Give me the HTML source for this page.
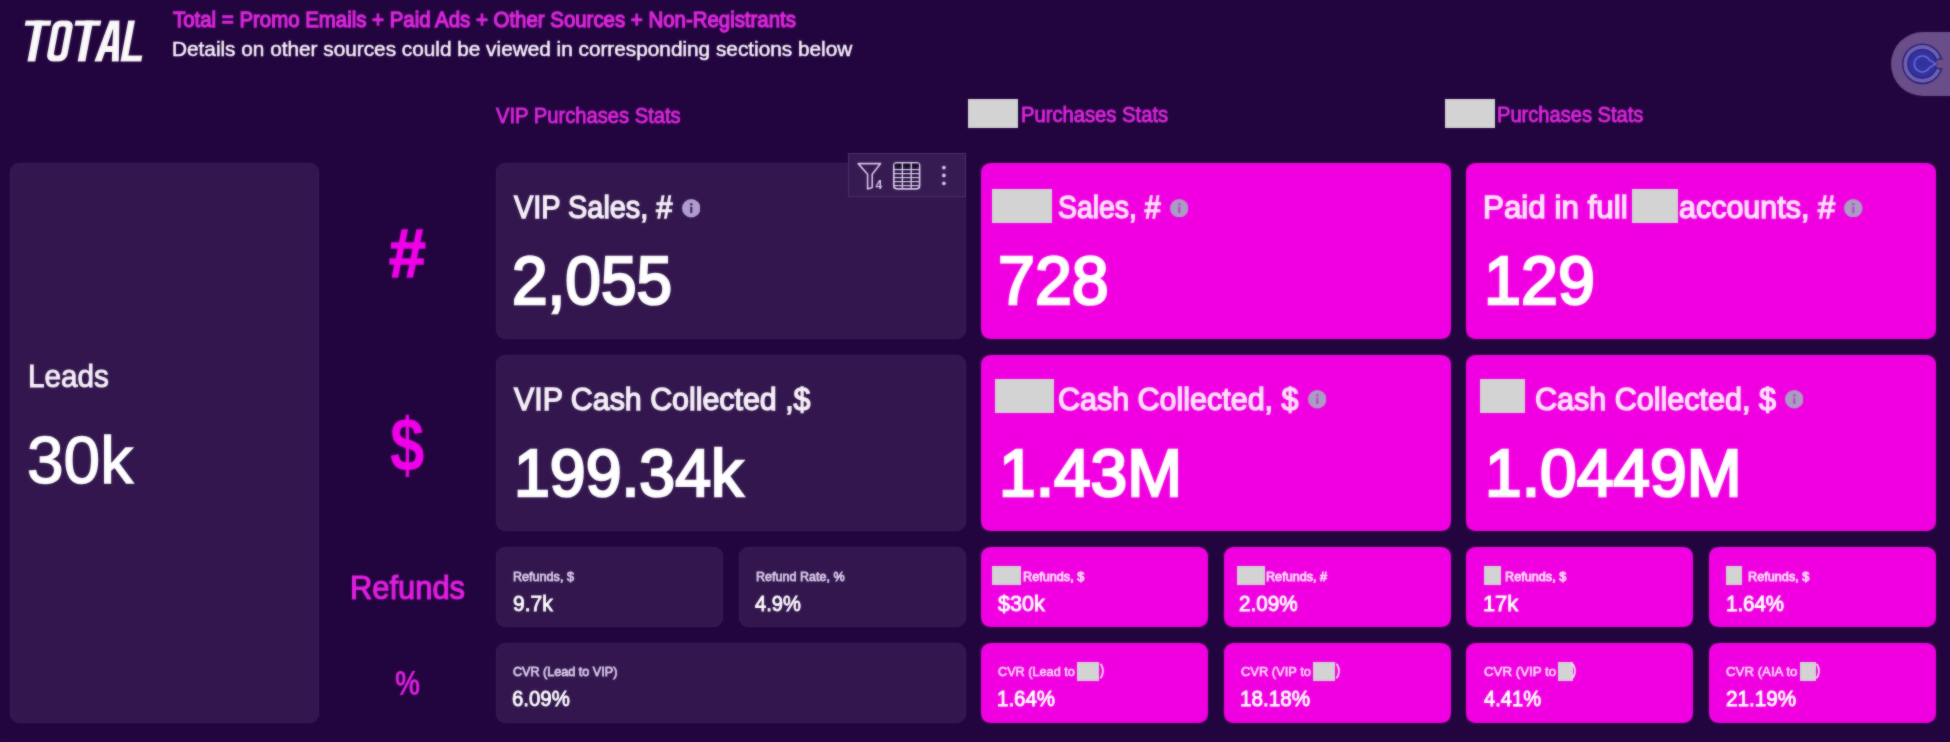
<!DOCTYPE html>
<html><head><meta charset="utf-8"><style>
html,body{margin:0;padding:0;}
body{width:1950px;height:742px;overflow:hidden;position:relative;background:#22043f;font-family:"Liberation Sans",sans-serif;}
.t{position:absolute;white-space:nowrap;transform-origin:0 0;}
#w{position:absolute;left:0;top:0;width:1950px;height:742px;background:#22043f;filter:url(#sb);}
</style></head><body><svg width="0" height="0" style="position:absolute"><filter id="sb" x="0" y="0" width="100%" height="100%" color-interpolation-filters="sRGB"><feGaussianBlur in="SourceGraphic" stdDeviation="1" result="b"/><feComposite in="SourceGraphic" in2="b" operator="arithmetic" k1="0" k2="0.5" k3="0.5" k4="0"/></filter></svg><div id="w">
<div style="position:absolute;left:10.00px;top:163.30px;width:308.50px;height:559.40px;background:#32164d;border-radius:9.0px;box-shadow:inset 0 0 0 1px #371b55;"></div>
<div style="position:absolute;left:495.80px;top:163.30px;width:469.80px;height:176.00px;background:#32164d;border-radius:9.0px;box-shadow:inset 0 0 0 1px #371b55;"></div>
<div style="position:absolute;left:495.80px;top:355.40px;width:469.80px;height:175.40px;background:#32164d;border-radius:9.0px;box-shadow:inset 0 0 0 1px #371b55;"></div>
<div style="position:absolute;left:495.80px;top:546.50px;width:226.80px;height:80.50px;background:#32164d;border-radius:9.0px;box-shadow:inset 0 0 0 1px #371b55;"></div>
<div style="position:absolute;left:738.80px;top:546.50px;width:226.80px;height:80.50px;background:#32164d;border-radius:9.0px;box-shadow:inset 0 0 0 1px #371b55;"></div>
<div style="position:absolute;left:495.80px;top:642.70px;width:469.80px;height:80.00px;background:#32164d;border-radius:9.0px;box-shadow:inset 0 0 0 1px #371b55;"></div>
<div style="position:absolute;left:981.00px;top:163.30px;width:469.80px;height:176.00px;background:#f000e0;border-radius:9.0px;"></div>
<div style="position:absolute;left:981.00px;top:355.40px;width:469.80px;height:175.40px;background:#f000e0;border-radius:9.0px;"></div>
<div style="position:absolute;left:981.00px;top:546.50px;width:226.80px;height:80.50px;background:#f000e0;border-radius:9.0px;"></div>
<div style="position:absolute;left:1224.00px;top:546.50px;width:226.80px;height:80.50px;background:#f000e0;border-radius:9.0px;"></div>
<div style="position:absolute;left:981.00px;top:642.70px;width:226.80px;height:80.00px;background:#f000e0;border-radius:9.0px;"></div>
<div style="position:absolute;left:1224.00px;top:642.70px;width:226.80px;height:80.00px;background:#f000e0;border-radius:9.0px;"></div>
<div style="position:absolute;left:1466.40px;top:163.30px;width:469.80px;height:176.00px;background:#f000e0;border-radius:9.0px;"></div>
<div style="position:absolute;left:1466.40px;top:355.40px;width:469.80px;height:175.40px;background:#f000e0;border-radius:9.0px;"></div>
<div style="position:absolute;left:1466.40px;top:546.50px;width:226.80px;height:80.50px;background:#f000e0;border-radius:9.0px;"></div>
<div style="position:absolute;left:1709.40px;top:546.50px;width:226.80px;height:80.50px;background:#f000e0;border-radius:9.0px;"></div>
<div style="position:absolute;left:1466.40px;top:642.70px;width:226.80px;height:80.00px;background:#f000e0;border-radius:9.0px;"></div>
<div style="position:absolute;left:1709.40px;top:642.70px;width:226.80px;height:80.00px;background:#f000e0;border-radius:9.0px;"></div>
<div style="position:absolute;left:967.70px;top:98.50px;width:50.10px;height:29.00px;background:#d3d3d3;border-radius:0.0px;"></div>
<div style="position:absolute;left:1445.40px;top:98.50px;width:50.00px;height:29.00px;background:#d3d3d3;border-radius:0.0px;"></div>
<div style="position:absolute;left:991.80px;top:189.00px;width:59.80px;height:34.30px;background:#d3d3d3;border-radius:0.0px;"></div>
<div style="position:absolute;left:1632.00px;top:189.00px;width:45.80px;height:34.30px;background:#d3d3d3;border-radius:0.0px;"></div>
<div style="position:absolute;left:994.50px;top:379.00px;width:59.30px;height:34.30px;background:#d3d3d3;border-radius:0.0px;"></div>
<div style="position:absolute;left:1479.60px;top:379.00px;width:45.90px;height:34.30px;background:#d3d3d3;border-radius:0.0px;"></div>
<div style="position:absolute;left:992.30px;top:566.30px;width:28.50px;height:18.40px;background:#d3d3d3;border-radius:0.0px;"></div>
<div style="position:absolute;left:1236.50px;top:566.30px;width:28.10px;height:18.40px;background:#d3d3d3;border-radius:0.0px;"></div>
<div style="position:absolute;left:1484.00px;top:566.30px;width:17.10px;height:18.40px;background:#d3d3d3;border-radius:0.0px;"></div>
<div style="position:absolute;left:1725.70px;top:566.30px;width:16.70px;height:18.40px;background:#d3d3d3;border-radius:0.0px;"></div>
<div style="position:absolute;left:1076.60px;top:662.00px;width:22.30px;height:18.60px;background:#d3d3d3;border-radius:0.0px;"></div>
<div style="position:absolute;left:1312.60px;top:662.00px;width:22.90px;height:18.60px;background:#d3d3d3;border-radius:0.0px;"></div>
<div style="position:absolute;left:1557.70px;top:662.00px;width:15.60px;height:18.60px;background:#d3d3d3;border-radius:0.0px;"></div>
<div style="position:absolute;left:1800.20px;top:662.00px;width:15.90px;height:18.60px;background:#d3d3d3;border-radius:0.0px;"></div>
<svg style="position:absolute;left:681.95px;top:199.05px" width="18.50" height="18.50" viewBox="0 0 20 20"><circle cx="10" cy="10" r="10" fill="#b09dcd"/><rect x="8.85" y="8.3" width="2.3" height="6.9" fill="#3a2358"/><circle cx="10" cy="5.7" r="1.35" fill="#3a2358"/></svg>
<svg style="position:absolute;left:1169.65px;top:198.75px" width="18.50" height="18.50" viewBox="0 0 20 20"><circle cx="10" cy="10" r="10" fill="#aa9cc4"/><rect x="8.85" y="8.3" width="2.3" height="6.9" fill="#b548c2"/><circle cx="10" cy="5.7" r="1.35" fill="#b548c2"/></svg>
<svg style="position:absolute;left:1844.25px;top:198.75px" width="18.50" height="18.50" viewBox="0 0 20 20"><circle cx="10" cy="10" r="10" fill="#aa9cc4"/><rect x="8.85" y="8.3" width="2.3" height="6.9" fill="#b548c2"/><circle cx="10" cy="5.7" r="1.35" fill="#b548c2"/></svg>
<svg style="position:absolute;left:1307.85px;top:390.05px" width="18.50" height="18.50" viewBox="0 0 20 20"><circle cx="10" cy="10" r="10" fill="#aa9cc4"/><rect x="8.85" y="8.3" width="2.3" height="6.9" fill="#b548c2"/><circle cx="10" cy="5.7" r="1.35" fill="#b548c2"/></svg>
<svg style="position:absolute;left:1784.95px;top:390.05px" width="18.50" height="18.50" viewBox="0 0 20 20"><circle cx="10" cy="10" r="10" fill="#aa9cc4"/><rect x="8.85" y="8.3" width="2.3" height="6.9" fill="#b548c2"/><circle cx="10" cy="5.7" r="1.35" fill="#b548c2"/></svg>
<div style="position:absolute;left:847.7px;top:153.1px;width:116.4px;height:41.6px;background:#361a52;border:1px solid #48306a;"></div>
<svg style="position:absolute;left:850px;top:155px" width="114" height="40" viewBox="850 155 114 40">
<path d="M858.2 163.6 L880.6 163.6 L872.2 174.2 L872.2 187.6 L867.6 189 L867.6 174.2 Z" fill="none" stroke="#d8c8ec" stroke-width="1.6" stroke-linejoin="round"/>
<text x="875.6" y="188.8" font-family="Liberation Sans" font-weight="bold" font-size="12" fill="#d8c8ec">4</text>
<rect x="893.8" y="162.8" width="25.8" height="26" rx="3" fill="#22103a" stroke="#d8c8ec" stroke-width="1.7"/>
<rect x="894.6" y="163.6" width="24.2" height="3.2" fill="#140a22"/>
<line x1="902.4" y1="163" x2="902.4" y2="188.6" stroke="#d8c8ec" stroke-width="1.4"/>
<line x1="911.2" y1="163" x2="911.2" y2="188.6" stroke="#d8c8ec" stroke-width="1.4"/>
<g stroke="#d8c8ec" stroke-width="1.3">
<line x1="894" y1="169.6" x2="920" y2="169.6"/><line x1="894" y1="173.6" x2="920" y2="173.6"/>
<line x1="894" y1="177.6" x2="920" y2="177.6"/><line x1="894" y1="181.6" x2="920" y2="181.6"/><line x1="894" y1="185.6" x2="920" y2="185.6"/>
</g>
<circle cx="943.9" cy="167.6" r="1.9" fill="#d8c8ec"/><circle cx="943.9" cy="175.4" r="1.9" fill="#d8c8ec"/><circle cx="943.9" cy="183.3" r="1.9" fill="#d8c8ec"/>
</svg>
<div style="position:absolute;left:1890.8px;top:32px;width:100px;height:63.7px;border-radius:32px;background:#6a4e8a;"></div>
<svg style="position:absolute;left:1890px;top:32px" width="60" height="64" viewBox="1890 32 60 64">
<circle cx="1922.3" cy="63.9" r="20.3" fill="#2c1b6c"/>
<circle cx="1922.3" cy="63.9" r="18.9" fill="#6c62b4"/>
<circle cx="1922.3" cy="63.9" r="15.0" fill="#2c1b6c"/>
<circle cx="1922.3" cy="63.9" r="13.9" fill="#3131a3"/>
<path d="M1943.5 58.9 H1939.6 A5 5 0 0 0 1939.6 68.9 H1943.5 Z" fill="#6a4e8a"/><path d="M1942.6 58.9 H1939.6 A5 5 0 0 0 1939.6 68.9 H1942.6" fill="none" stroke="#2c1b6c" stroke-width="1.3"/>
<path d="M1934.2 59.6 L1937.8 63.9 L1934.2 68.2 Z" fill="#3131a3"/>
<path d="M1936 63.9 L1929.4 60.1 A8 8 0 1 0 1929.4 67.7 Z" fill="none" stroke="#6c70c6" stroke-width="1.5" stroke-linejoin="round"/>
</svg>
<svg style="position:absolute;left:0;top:0" width="160" height="80" viewBox="0 0 160 80">
<g transform="translate(0,61.6) skewX(-10.76) translate(0,-61.6)" fill="#faf8f8">
<rect x="17.9" y="20.4" width="25.7" height="5.3"/><rect x="27.4" y="20.4" width="7.8" height="41.2"/>
<path fill-rule="evenodd" d="M53 20.4 H59 A7.2 7.2 0 0 1 66.2 27.6 V54.4 A7.2 7.2 0 0 1 59 61.6 H53 A7.2 7.2 0 0 1 45.8 54.4 V27.6 A7.2 7.2 0 0 1 53 20.4 Z M55 26.6 A2.6 2.6 0 0 0 52.4 29.2 V52.8 A2.6 2.6 0 0 0 55 55.4 H57 A2.6 2.6 0 0 0 59.6 52.8 V29.2 A2.6 2.6 0 0 0 57 26.6 Z"/>
<rect x="67.7" y="20.4" width="25.8" height="5.3"/><rect x="77.6" y="20.4" width="7.8" height="41.2"/>
<path fill-rule="evenodd" d="M94.3 61.6 L101.9 20.4 H111.6 L118.8 61.6 H111.8 L110.3 52 H103.2 L101.6 61.6 Z M104.2 46 H109.3 L106.9 28.5 Z"/>
<path d="M120.4 20.4 H127.2 V55.5 H141.2 V61.6 H120.4 Z"/>
</g></svg>
<div class="t" style="left:172.84px;top:8.91px;font-size:22.26px;line-height:22.26px;color:#da26da;transform:scaleX(0.9175);-webkit-text-stroke:1.30px #da26da;">Total = Promo Emails + Paid Ads + Other Sources + Non-Registrants</div>
<div class="t" style="left:172.24px;top:39.21px;font-size:20.86px;line-height:20.86px;color:#faf4fc;transform:scaleX(0.9960);-webkit-text-stroke:0.50px #faf4fc;">Details on other sources could be viewed in corresponding sections below</div>
<div class="t" style="left:495.91px;top:103.50px;font-size:22.67px;line-height:22.67px;color:#da26da;transform:scaleX(0.8907);-webkit-text-stroke:0.90px #da26da;">VIP Purchases Stats</div>
<div class="t" style="left:1020.76px;top:104.31px;font-size:21.84px;line-height:21.84px;color:#da26da;transform:scaleX(0.9255);-webkit-text-stroke:0.90px #da26da;">Purchases Stats</div>
<div class="t" style="left:1496.96px;top:104.31px;font-size:21.84px;line-height:21.84px;color:#da26da;transform:scaleX(0.9210);-webkit-text-stroke:0.90px #da26da;">Purchases Stats</div>
<div class="t" style="left:27.73px;top:361.40px;font-size:31.67px;line-height:31.67px;color:#f6f0f8;transform:scaleX(0.9371);-webkit-text-stroke:1.00px #f6f0f8;">Leads</div>
<div class="t" style="left:27.28px;top:427.40px;font-size:66.88px;line-height:66.88px;color:#ffffff;transform:scaleX(0.9842);-webkit-text-stroke:1.40px #ffffff;">30k</div>
<div class="t" style="left:349.73px;top:572.40px;font-size:32.93px;line-height:32.93px;color:#e01ee0;transform:scaleX(0.9378);-webkit-text-stroke:1.20px #e01ee0;">Refunds</div>
<div class="t" style="left:513.72px;top:192.31px;font-size:31.12px;line-height:31.12px;color:#f6f0f8;transform:scaleX(0.9284);-webkit-text-stroke:1.40px #f6f0f8;">VIP Sales, #</div>
<div class="t" style="left:512.01px;top:247.00px;font-size:67.88px;line-height:67.88px;color:#ffffff;transform:scaleX(0.9422);-webkit-text-stroke:2.60px #ffffff;">2,055</div>
<div class="t" style="left:514.33px;top:383.11px;font-size:32.09px;line-height:32.09px;color:#f6f0f8;transform:scaleX(0.9466);-webkit-text-stroke:1.40px #f6f0f8;">VIP Cash Collected ,$</div>
<div class="t" style="left:513.65px;top:439.61px;font-size:66.74px;line-height:66.74px;color:#ffffff;transform:scaleX(0.9651);-webkit-text-stroke:2.60px #ffffff;">199.34k</div>
<div class="t" style="left:1057.75px;top:192.31px;font-size:31.12px;line-height:31.12px;color:#fde0fb;transform:scaleX(0.9121);-webkit-text-stroke:1.40px #fde0fb;">Sales, #</div>
<div class="t" style="left:997.76px;top:247.21px;font-size:68.46px;line-height:68.46px;color:#ffffff;transform:scaleX(0.9698);-webkit-text-stroke:2.60px #ffffff;">728</div>
<div class="t" style="left:1483.13px;top:192.31px;font-size:31.12px;line-height:31.12px;color:#fde0fb;transform:scaleX(1.0083);-webkit-text-stroke:1.40px #fde0fb;">Paid in full</div>
<div class="t" style="left:1678.99px;top:192.31px;font-size:31.12px;line-height:31.12px;color:#fde0fb;transform:scaleX(0.9795);-webkit-text-stroke:1.40px #fde0fb;">accounts, #</div>
<div class="t" style="left:1483.90px;top:247.21px;font-size:68.46px;line-height:68.46px;color:#ffffff;transform:scaleX(0.9708);-webkit-text-stroke:2.60px #ffffff;">129</div>
<div class="t" style="left:1057.52px;top:383.11px;font-size:32.09px;line-height:32.09px;color:#fde0fb;transform:scaleX(0.9498);-webkit-text-stroke:1.40px #fde0fb;">Cash Collected, $</div>
<div class="t" style="left:998.87px;top:439.61px;font-size:66.74px;line-height:66.74px;color:#ffffff;transform:scaleX(0.9869);-webkit-text-stroke:2.60px #ffffff;">1.43M</div>
<div class="t" style="left:1534.82px;top:383.11px;font-size:32.09px;line-height:32.09px;color:#fde0fb;transform:scaleX(0.9518);-webkit-text-stroke:1.40px #fde0fb;">Cash Collected, $</div>
<div class="t" style="left:1484.56px;top:439.61px;font-size:66.74px;line-height:66.74px;color:#ffffff;transform:scaleX(0.9882);-webkit-text-stroke:2.60px #ffffff;">1.0449M</div>
<div class="t" style="left:513.25px;top:569.60px;font-size:12.98px;line-height:12.98px;color:#d9c9ea;transform:scaleX(0.9713);-webkit-text-stroke:0.80px #d9c9ea;">Refunds, $</div>
<div class="t" style="left:512.53px;top:591.71px;font-size:22.70px;line-height:22.70px;color:#ffffff;transform:scaleX(0.9258);-webkit-text-stroke:0.90px #ffffff;">9.7k</div>
<div class="t" style="left:755.56px;top:569.60px;font-size:12.98px;line-height:12.98px;color:#d9c9ea;transform:scaleX(0.9672);-webkit-text-stroke:0.80px #d9c9ea;">Refund Rate, %</div>
<div class="t" style="left:754.74px;top:591.71px;font-size:22.70px;line-height:22.70px;color:#ffffff;transform:scaleX(0.8868);-webkit-text-stroke:0.90px #ffffff;">4.9%</div>
<div class="t" style="left:513.25px;top:664.90px;font-size:12.98px;line-height:12.98px;color:#d9c9ea;transform:scaleX(0.9719);-webkit-text-stroke:0.80px #d9c9ea;">CVR (Lead to VIP)</div>
<div class="t" style="left:512.27px;top:687.01px;font-size:22.70px;line-height:22.70px;color:#ffffff;transform:scaleX(0.8989);-webkit-text-stroke:0.90px #ffffff;">6.09%</div>
<div class="t" style="left:1022.95px;top:569.60px;font-size:12.98px;line-height:12.98px;color:#fde0fb;transform:scaleX(0.9761);-webkit-text-stroke:0.80px #fde0fb;">Refunds, $</div>
<div class="t" style="left:998.10px;top:591.71px;font-size:22.70px;line-height:22.70px;color:#ffffff;transform:scaleX(0.9497);-webkit-text-stroke:0.90px #ffffff;">$30k</div>
<div class="t" style="left:1265.65px;top:569.60px;font-size:12.98px;line-height:12.98px;color:#fde0fb;transform:scaleX(0.9738);-webkit-text-stroke:0.80px #fde0fb;">Refunds, #</div>
<div class="t" style="left:1239.47px;top:591.71px;font-size:22.70px;line-height:22.70px;color:#ffffff;transform:scaleX(0.9113);-webkit-text-stroke:0.90px #ffffff;">2.09%</div>
<div class="t" style="left:1505.15px;top:569.60px;font-size:12.98px;line-height:12.98px;color:#fde0fb;transform:scaleX(0.9761);-webkit-text-stroke:0.80px #fde0fb;">Refunds, $</div>
<div class="t" style="left:1482.77px;top:591.71px;font-size:22.70px;line-height:22.70px;color:#ffffff;transform:scaleX(0.9608);-webkit-text-stroke:0.90px #ffffff;">17k</div>
<div class="t" style="left:1747.85px;top:569.60px;font-size:12.98px;line-height:12.98px;color:#fde0fb;transform:scaleX(0.9777);-webkit-text-stroke:0.80px #fde0fb;">Refunds, $</div>
<div class="t" style="left:1725.65px;top:591.71px;font-size:22.70px;line-height:22.70px;color:#ffffff;transform:scaleX(0.9023);-webkit-text-stroke:0.90px #ffffff;">1.64%</div>
<div class="t" style="left:997.35px;top:687.01px;font-size:22.70px;line-height:22.70px;color:#ffffff;transform:scaleX(0.9023);-webkit-text-stroke:0.90px #ffffff;">1.64%</div>
<div class="t" style="left:1240.04px;top:687.01px;font-size:22.70px;line-height:22.70px;color:#ffffff;transform:scaleX(0.9104);-webkit-text-stroke:0.90px #ffffff;">18.18%</div>
<div class="t" style="left:1483.94px;top:687.01px;font-size:22.70px;line-height:22.70px;color:#ffffff;transform:scaleX(0.8868);-webkit-text-stroke:0.90px #ffffff;">4.41%</div>
<div class="t" style="left:1726.17px;top:687.01px;font-size:22.70px;line-height:22.70px;color:#ffffff;transform:scaleX(0.9113);-webkit-text-stroke:0.90px #ffffff;">21.19%</div>
<div class="t" style="left:998.10px;top:664.91px;font-size:13.19px;line-height:13.19px;color:#fde0fb;transform:scaleX(0.9613);-webkit-text-stroke:0.50px #fde0fb;">CVR (Lead to</div>
<div class="t" style="left:1240.79px;top:664.91px;font-size:13.19px;line-height:13.19px;color:#fde0fb;transform:scaleX(0.9763);-webkit-text-stroke:0.50px #fde0fb;">CVR (VIP to</div>
<div class="t" style="left:1483.58px;top:664.91px;font-size:13.19px;line-height:13.19px;color:#fde0fb;transform:scaleX(1.0086);-webkit-text-stroke:0.50px #fde0fb;">CVR (VIP to</div>
<div class="t" style="left:1726.38px;top:664.91px;font-size:13.19px;line-height:13.19px;color:#fde0fb;transform:scaleX(1.0044);-webkit-text-stroke:0.50px #fde0fb;">CVR (AIA to</div>
<div class="t" style="left:388.74px;top:219.61px;font-size:68.71px;line-height:68.71px;font-weight:700;color:#f000e8;transform:scaleX(0.9619);-webkit-text-stroke:1.60px #f000e8;">#</div>
<div class="t" style="left:390.18px;top:406.00px;font-size:76.80px;line-height:76.80px;font-weight:700;color:#f000e8;transform:scaleX(0.8052);">$</div>
<div class="t" style="left:394.90px;top:665.74px;font-size:34.54px;line-height:34.54px;font-weight:700;color:#e01ee0;transform:scaleX(0.8156);">%</div>
<div class="t" style="left:1099.72px;top:662.14px;font-size:15.03px;line-height:15.03px;color:#fde0fb;transform:scaleX(0.8326);-webkit-text-stroke:0.70px #fde0fb;">)</div>
<div class="t" style="left:1336.02px;top:662.14px;font-size:15.03px;line-height:15.03px;color:#fde0fb;transform:scaleX(0.8326);-webkit-text-stroke:0.70px #fde0fb;">)</div>
<div class="t" style="left:1572.42px;top:662.14px;font-size:15.03px;line-height:15.03px;color:#fde0fb;transform:scaleX(0.8326);-webkit-text-stroke:0.70px #fde0fb;">)</div>
<div class="t" style="left:1816.02px;top:662.14px;font-size:15.03px;line-height:15.03px;color:#fde0fb;transform:scaleX(0.8326);-webkit-text-stroke:0.70px #fde0fb;">)</div>
</div></body></html>
